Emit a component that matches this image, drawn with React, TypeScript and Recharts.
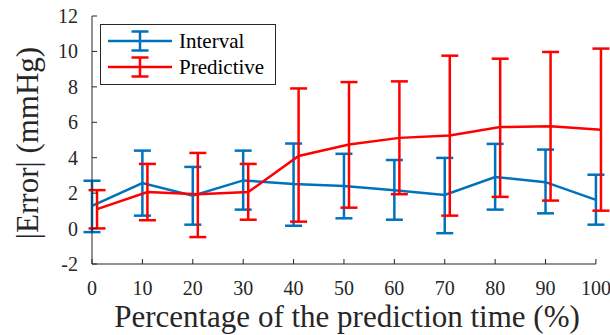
import React from 'react';
import { LineChart, Line, XAxis, YAxis, ErrorBar, ReferenceLine, Label } from 'recharts';

const percentages = [0, 10, 20, 30, 40, 50, 60, 70, 80, 90, 100];
const intervalMean = [1.28, 2.57, 1.85, 2.72, 2.51, 2.41, 2.17, 1.9, 2.91, 2.62, 1.62];
const intervalHigh = [2.7, 4.4, 3.48, 4.4, 4.8, 4.22, 3.87, 3.99, 4.78, 4.46, 3.04];
const intervalLow = [-0.2, 0.73, 0.22, 1.07, 0.16, 0.58, 0.5, -0.26, 1.07, 0.86, 0.22];
const predictiveMean = [1.1, 2.06, 1.94, 2.06, 4.1, 4.74, 5.12, 5.26, 5.73, 5.77, 5.58];
const predictiveHigh = [2.17, 3.65, 4.27, 3.65, 7.91, 8.27, 8.31, 9.76, 9.59, 9.97, 10.16];
const predictiveLow = [0.01, 0.47, -0.48, 0.5, 0.39, 1.18, 1.94, 0.73, 1.79, 1.58, 1.01];
const xTicks = [0, 10, 20, 30, 40, 50, 60, 70, 80, 90, 100];
const yTicks = [-2, 0, 2, 4, 6, 8, 10, 12];
const seriesNames = ['Interval', 'Predictive'];

const BLUE = '#0072BD';
const RED = '#FF0000';
const AXIS = '#262626';
const FONT = '"Liberation Serif", "Times New Roman", serif';
const PRED_OFFSET = 1;

const intervalData = percentages.map((p, i) => ({
  x: p,
  y: intervalMean[i],
  err: [intervalMean[i] - intervalLow[i], intervalHigh[i] - intervalMean[i]],
}));
const predictiveData = percentages.map((p, i) => ({
  x: p + PRED_OFFSET,
  y: predictiveMean[i],
  err: [predictiveMean[i] - predictiveLow[i], predictiveHigh[i] - predictiveMean[i]],
}));

const XTick = (props: any) => {
  const { x, y, payload } = props;
  return (
    <g>
      <line x1={x} y1={y} x2={x} y2={y - 5} stroke={AXIS} strokeWidth={1} />
      <text x={x} y={y + 31} textAnchor="middle" fontFamily={FONT} fontSize={20} fill={AXIS}>
        {payload.value}
      </text>
    </g>
  );
};

const YTick = (props: any) => {
  const { x, y, payload } = props;
  return (
    <g>
      <line x1={x} y1={y} x2={x + 5} y2={y} stroke={AXIS} strokeWidth={1} />
      <text x={x - 14} y={y + 7} textAnchor="end" fontFamily={FONT} fontSize={20} fill={AXIS}>
        {payload.value}
      </text>
    </g>
  );
};

const LegendEntry = ({ y, color, name }: { y: number; color: string; name: string }) => (
  <g>
    <line x1={8} y1={y} x2={72} y2={y} stroke={color} strokeWidth={2.5} />
    <line x1={40} y1={y - 9.5} x2={40} y2={y + 9.5} stroke={color} strokeWidth={2.5} />
    <line x1={31.5} y1={y - 9.5} x2={48.5} y2={y - 9.5} stroke={color} strokeWidth={2.5} />
    <line x1={31.5} y1={y + 9.5} x2={48.5} y2={y + 9.5} stroke={color} strokeWidth={2.5} />
    <text x={79} y={y + 7} fontFamily={FONT} fontSize={21} fill="#000">
      {name}
    </text>
  </g>
);

export default function App() {
  return (
    <div style={{ position: 'fixed', left: 0, top: 0, width: 610, height: 335, background: '#fff' }}>
      <LineChart width={610} height={335} margin={{ top: 16, right: 4, left: 0, bottom: 0 }}>
        <XAxis
          dataKey="x"
          type="number"
          domain={[0, 102]}
          ticks={xTicks}
          axisLine={false}
          tickLine={false}
          tickSize={0}
          tickMargin={0}
          height={71}
          tick={<XTick />}
          interval={0}
        >
          <Label
            content={() => (
              <text x={347} y={327} textAnchor="middle" fontFamily={FONT} fontSize={31} fill={AXIS}>
                Percentage of the prediction time (%)
              </text>
            )}
          />
        </XAxis>
        <YAxis
          type="number"
          domain={[-2, 12]}
          ticks={yTicks}
          width={92}
          axisLine={{ stroke: AXIS, strokeWidth: 1 }}
          tickLine={false}
          tickSize={0}
          tickMargin={0}
          tick={<YTick />}
          interval={0}
        >
          <Label
            content={() => (
              <text
                x={38}
                y={143}
                textAnchor="middle"
                fontFamily={FONT}
                fontSize={31}
                fill={AXIS}
                transform="rotate(-90 38 143)"
              >
                |Error| (mmHg)
              </text>
            )}
          />
        </YAxis>
        <ReferenceLine
          segment={[
            { x: 0, y: -2 },
            { x: 100, y: -2 },
          ]}
          stroke={AXIS}
          strokeWidth={1}
          ifOverflow="visible"
        />
        <Line
          data={intervalData}
          dataKey="y"
          name={seriesNames[0]}
          stroke={BLUE}
          strokeWidth={2.5}
          dot={false}
          isAnimationActive={false}
        >
          <ErrorBar dataKey="err" direction="y" width={8.5} stroke={BLUE} strokeWidth={2.5} />
        </Line>
        <Line
          data={predictiveData}
          dataKey="y"
          name={seriesNames[1]}
          stroke={RED}
          strokeWidth={2.5}
          dot={false}
          isAnimationActive={false}
        >
          <ErrorBar dataKey="err" direction="y" width={8.5} stroke={RED} strokeWidth={2.5} />
        </Line>
      </LineChart>
      <svg
        width={176}
        height={61}
        style={{ position: 'absolute', left: 99.5, top: 23.5, overflow: 'visible' }}
      >
        <rect x={0.5} y={0.5} width={175} height={60} fill="#fff" stroke={AXIS} strokeWidth={1} />
        <LegendEntry y={17} color={BLUE} name={seriesNames[0]} />
        <LegendEntry y={43} color={RED} name={seriesNames[1]} />
      </svg>
    </div>
  );
}
